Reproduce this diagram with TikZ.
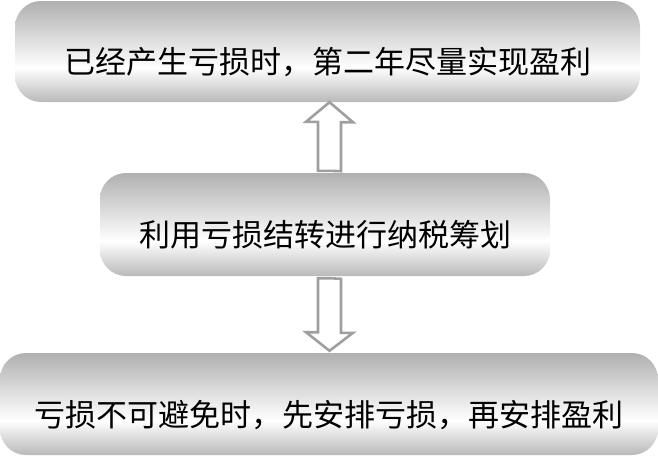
\documentclass[tikz,border=0pt]{standalone}
\usepackage{fontspec}
\newfontfamily\cjk{Noto Sans CJK SC}
\usetikzlibrary{calc}

% shading of the boxes: grey at the top, white low down, grey at the bottom
\pgfdeclareverticalshading{boxshade}{100bp}{color(0bp)=(gray!55); color(25bp)=(gray!55); color(42bp)=(white); color(75bp)=(gray!62); color(100bp)=(gray!62)}

\tikzset{
  stepbox/.style={rounded corners=26pt, shading=boxshade, inner sep=0pt,
    text height=44pt, text depth=0pt, font=\cjk\fontsize{31}{36}\selectfont},
  hollow/.style={draw=gray!75, line width=2.6pt, fill=white, line join=miter}
}

\begin{document}
\begin{tikzpicture}[x=1pt,y=-1pt]
	\useasboundingbox (0,0) rectangle (658,455);
	%\draw[help lines] (0,0) grid (658,455);

	\node[stepbox, minimum width=625pt, minimum height=101pt] (profit) at (327.5,51.5) {已经产生亏损时，第二年尽量实现盈利};
	\node[stepbox, minimum width=450pt, minimum height=103pt] (carry) at (325,224.5) {利用亏损结转进行纳税筹划};
	\node[stepbox, minimum width=658pt, minimum height=102pt] (loss) at (329,404) {亏损不可避免时，先安排亏损，再安排盈利};

	\coordinate (arrx) at (329.5,0);

	\draw[hollow] ($(carry.north -| arrx)+(0,-2)$) -- ++(-11.5,0) -- ++(0,-49) -- ++(-12,0) -- (profit.south -| arrx) -- ++(23.5,20) -- ++(-12,0) -- ++(0,49) -- cycle;

	\draw[hollow] ($(carry.south -| arrx)+(0,2)$) -- ++(-11.5,0) -- ++(0,54) -- ++(-12,0) -- ($(loss.north -| arrx)+(0,-2)$) -- ++(23.5,-18) -- ++(-12,0) -- ++(0,-54) -- cycle;
\end{tikzpicture}
\end{document}
